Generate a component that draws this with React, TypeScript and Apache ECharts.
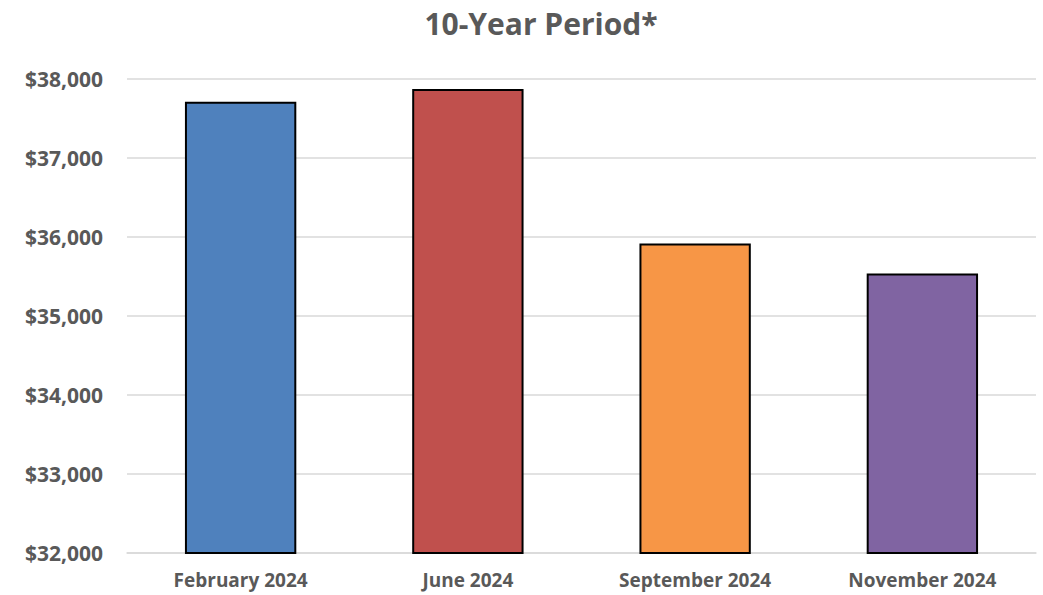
import React, { useEffect, useRef } from "react";
import * as echarts from "echarts";

const categories = ["February 2024", "June 2024", "September 2024", "November 2024"];
const values = [37713, 37873, 35919, 35539];
const barColors = ["#4F81BD", "#C0504D", "#F79646", "#8064A2"];
const titleText = "10-Year Period*";
const yMin = 32000;
const yMax = 38000;
const yStep = 1000;

export default function App() {
  const ref = useRef<HTMLDivElement>(null);
  useEffect(() => {
    if (!ref.current) return;
    const chart = echarts.init(ref.current, null, { renderer: "svg" });
    const font = "'Open Sans', 'Noto Sans', sans-serif";
    chart.setOption({
      animation: false,
      backgroundColor: "#ffffff",
      title: {
        text: titleText,
        left: 536,
        textAlign: "center",
        top: 3,
        textStyle: { fontFamily: font, fontWeight: "bold", fontSize: 30, color: "#595959" },
      },
      grid: { left: 127, right: 7, top: 79, bottom: 42, containLabel: false },
      xAxis: {
        type: "category",
        data: categories,
        axisLine: { show: true, lineStyle: { color: "#D9D9D9", width: 1.5 } },
        axisTick: { show: false },
        axisLabel: {
          margin: 17,
          fontFamily: font,
          fontWeight: "bold",
          fontSize: 19,
          lineHeight: 20,
          color: "#595959",
        },
      },
      yAxis: {
        type: "value",
        min: yMin,
        max: yMax,
        interval: yStep,
        axisLine: { show: false },
        axisTick: { show: false },
        splitLine: { lineStyle: { color: "#D9D9D9", width: 1.5 } },
        axisLabel: {
          margin: 24,
          fontFamily: font,
          fontWeight: "bold",
          fontSize: 21,
          color: "#595959",
          formatter: (v: number) => "$" + v.toLocaleString("en-US"),
        },
      },
      series: [
        {
          type: "bar",
          barWidth: "49%",
          data: values.map((v, i) => ({
            value: v,
            itemStyle: { color: barColors[i], borderColor: "#000000", borderWidth: 2 },
          })),
        },
      ],
    });
    return () => chart.dispose();
  }, []);
  return (
    <div
      ref={ref}
      style={{ position: "absolute", left: 0, top: 0, width: 1043, height: 595 }}
    />
  );
}
